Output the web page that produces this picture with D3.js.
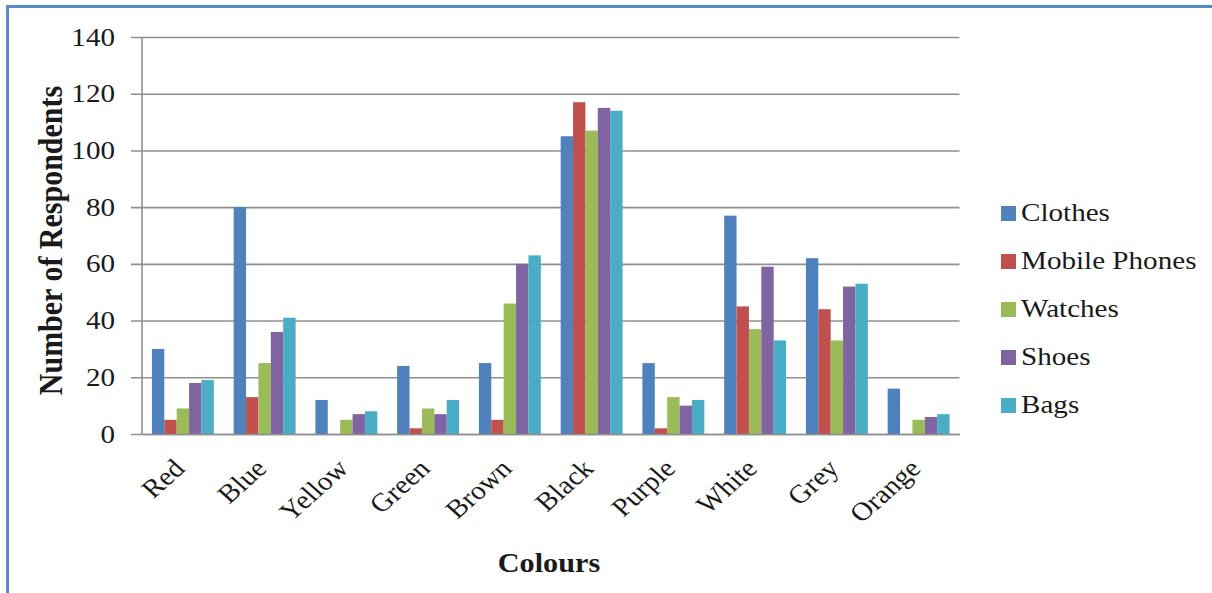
<!DOCTYPE html>
<html>
<head>
<meta charset="utf-8">
<script src="https://cdn.jsdelivr.net/npm/d3@7"></script>
<style>
  html, body { margin: 0; padding: 0; background: #fff; }
  svg { display: block; }
  text { font-family: "Liberation Serif", "Times New Roman", serif; fill: #1a1a1a; }
</style>
</head>
<body>
<svg id="chart" width="1212" height="593"></svg>
<script>
// Colour preference survey: respondents per colour for each product type
const colours = ["Red", "Blue", "Yellow", "Green", "Brown", "Black", "Purple", "White", "Grey", "Orange"];
const seriesNames = ["Clothes", "Mobile Phones", "Watches", "Shoes", "Bags"];
const clothes      = [30, 80, 12, 24, 25, 105, 25, 77, 62, 16];
const mobilePhones = [5, 13, 0, 2, 5, 117, 2, 45, 44, 0];
const watches      = [9, 25, 5, 9, 46, 107, 13, 37, 33, 5];
const shoes        = [18, 36, 7, 7, 60, 115, 10, 59, 52, 6];
const bags         = [19, 41, 8, 12, 63, 114, 12, 33, 53, 7];
const yTicks       = [0, 20, 40, 60, 80, 100, 120, 140];
const seriesColours = ["#4f81bd", "#c0504d", "#9bbb59", "#8064a2", "#4bacc6"];

const seriesValues = [clothes, mobilePhones, watches, shoes, bags];
const rows = colours.map((c, i) => ({
  colour: c,
  values: seriesNames.map((s, k) => ({ series: s, value: seriesValues[k][i] }))
}));

const svg = d3.select("#chart");
const stretch = 1.12;   // text is set slightly wide

// frame
svg.append("path")
  .attr("d", "M7.5,593 L7.5,6.5 L1212,6.5")
  .attr("fill", "none")
  .attr("stroke", "#5a8ac6")
  .attr("stroke-width", 3);

const plot = { left: 142, right: 959.5, top: 37, bottom: 434 };

const x0 = d3.scaleBand().domain(colours).range([plot.left, plot.right]).paddingInner(0).paddingOuter(0);
const x1 = d3.scaleBand().domain(seriesNames).range([0, x0.bandwidth()]).paddingInner(0).paddingOuter(0.8);
const y = d3.scaleLinear().domain([0, 140]).range([plot.bottom, plot.top]);
const colour = d3.scaleOrdinal().domain(seriesNames).range(seriesColours);

// horizontal gridlines with outside ticks
const yAxis = d3.axisLeft(y).tickValues(yTicks).tickSize(-(plot.right - plot.left)).tickFormat("");
const gy = svg.append("g").attr("transform", `translate(${plot.left},0)`).call(yAxis);
gy.select(".domain").remove();
gy.selectAll(".tick line")
  .attr("x1", -11)
  .attr("stroke", "#8f8f8f")
  .attr("stroke-width", 1.6);

// y tick labels
svg.append("g").selectAll("text")
  .data(yTicks)
  .join("text")
  .attr("transform", d => `translate(115,${y(d)}) scale(${stretch},1)`)
  .attr("text-anchor", "end")
  .attr("dy", "0.33em")
  .style("font-size", "26px")
  .text(d => d);

// bars
svg.append("g").selectAll("g")
  .data(rows)
  .join("g")
  .attr("transform", d => `translate(${x0(d.colour)},0)`)
  .selectAll("rect")
  .data(d => d.values)
  .join("rect")
  .attr("x", d => x1(d.series))
  .attr("width", x1.bandwidth())
  .attr("y", d => y(d.value))
  .attr("height", d => y(0) - y(d.value))
  .attr("fill", d => colour(d.series));

// axis lines
svg.append("line")
  .attr("x1", plot.left).attr("x2", plot.left)
  .attr("y1", plot.top).attr("y2", plot.bottom)
  .attr("stroke", "#8f8f8f").attr("stroke-width", 1.6);
const xAxis = d3.axisBottom(x0).tickSize(0).tickFormat("");
const gx = svg.append("g").attr("transform", `translate(0,${plot.bottom})`).call(xAxis);
gx.select(".domain").attr("stroke", "#8f8f8f").attr("stroke-width", 1.6);

// category labels, rotated
svg.append("g").selectAll("text")
  .data(colours)
  .join("text")
  .attr("transform", d => `translate(${x0(d) + x0.bandwidth() / 2 + 3.5},470) scale(${stretch},1) rotate(-45)`)
  .attr("text-anchor", "end")
  .style("font-size", "26px")
  .text(d => d);

// axis titles
svg.append("text")
  .attr("transform", `translate(61.5,240.5) scale(${stretch},1) rotate(-90)`)
  .attr("text-anchor", "middle")
  .style("font-size", "30px")
  .style("font-weight", "bold")
  .text("Number of Respondents");

svg.append("text")
  .attr("transform", `translate(549,571.5) scale(${stretch},1)`)
  .attr("text-anchor", "middle")
  .style("font-size", "27px")
  .style("font-weight", "bold")
  .text("Colours");

// legend
const legend = svg.append("g").selectAll("g")
  .data(seriesNames)
  .join("g")
  .attr("transform", (d, i) => `translate(1001,${206 + i * 48})`);
legend.append("rect")
  .attr("width", 15).attr("height", 15)
  .attr("fill", d => colour(d));
legend.append("text")
  .attr("transform", `translate(20,15) scale(${stretch},1)`)
  .style("font-size", "26px")
  .text(d => d);
</script>
</body>
</html>
